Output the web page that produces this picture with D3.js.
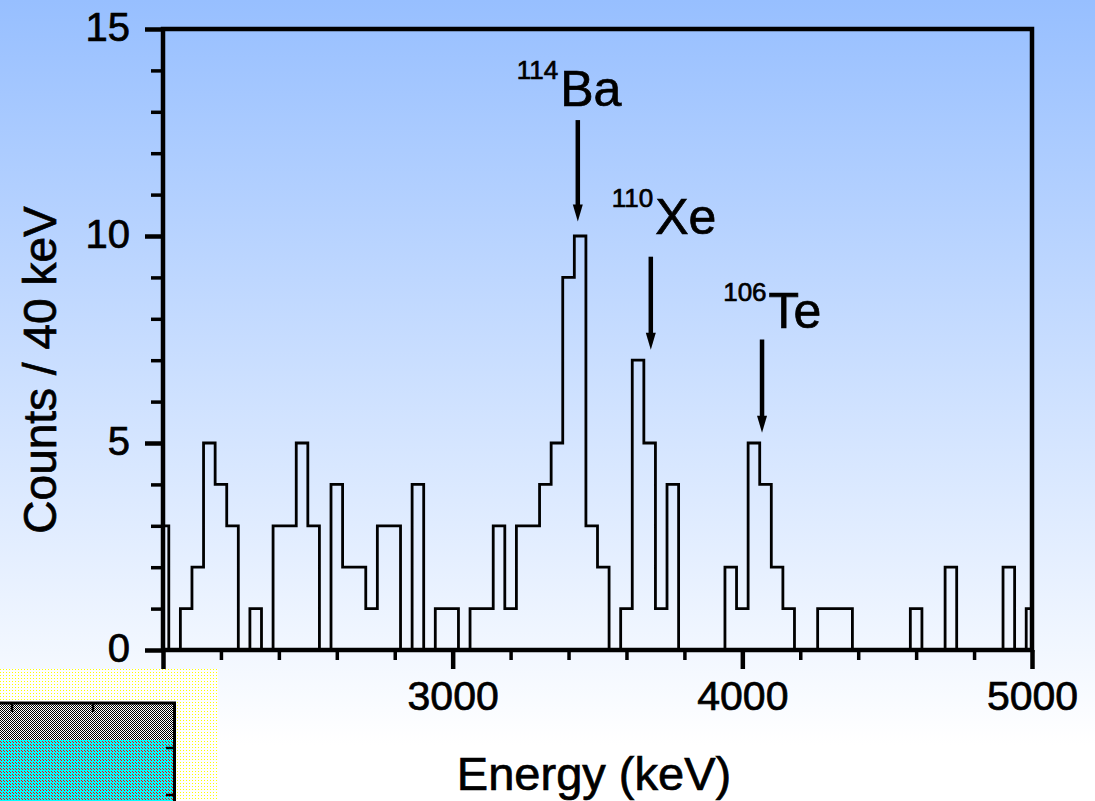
<!DOCTYPE html>
<html>
<head>
<meta charset="utf-8">
<script src="https://cdn.jsdelivr.net/npm/d3@7"></script>
<style>
  body { margin: 0; background: #fff; }
  text { font-family: "Liberation Sans", Arial, Helvetica, sans-serif; fill: #000; stroke: #000; stroke-width: 0.7px; }
</style>
</head>
<body>
<div id="chart-area"></div>
<script>
// DATA - 40 keV bins, first bin centred on 2000 keV
const binWidth = 40
const binCentres = d3.range(2000, 5001, binWidth)
const counts = [
  3, 0, 1, 2, 5, 4, 3, 0, 1, 0,
  3, 3, 5, 3, 0, 4, 2, 2, 1, 3,
  3, 0, 4, 0, 1, 1, 0, 1, 1, 3,
  1, 3, 3, 4, 5, 9, 10, 3, 2, 0,
  1, 7, 5, 1, 4, 0, 0, 0, 0, 2,
  1, 5, 4, 2, 1, 0, 0, 1, 1, 1,
  0, 0, 0, 0, 0, 1, 0, 0, 2, 0,
  0, 0, 0, 2, 0, 1
]

const xMajorTicks = [2000, 3000, 4000, 5000]
const yMajorTicks = [0, 5, 10, 15]

// peak annotations (arrow and label anchor in data units)
const isotopes = ["Ba", "Xe", "Te"]
const massNumbers = ["114", "110", "106"]
const arrowEnergy = [3432, 3684, 4068]
const arrowFrom = [12.8, 9.5, 7.5]
const arrowTo = [10.35, 7.25, 5.25]
const labelEnergy = [3221, 3549, 3934]
const labelCount = [13.15, 10.05, 7.77]

const WIDTH = 1095
const HEIGHT = 801
const PLOT = { LEFT: 163, RIGHT: 1032, TOP: 29, BOTTOM: 650 }

const svg = d3.select("#chart-area").append("svg")
  .attr("width", WIDTH)
  .attr("height", HEIGHT)

const defs = svg.append("defs")

// BACKGROUND gradient
const grad = defs.append("linearGradient")
  .attr("id", "bg")
  .attr("x1", 0).attr("y1", 0).attr("x2", 0).attr("y2", 1)
grad.append("stop").attr("offset", "0%").attr("stop-color", "#97bfff")
grad.append("stop").attr("offset", "93%").attr("stop-color", "#ffffff")

svg.append("rect")
  .attr("width", WIDTH)
  .attr("height", HEIGHT)
  .attr("fill", "url(#bg)")

// SCALES
const x = d3.scaleLinear()
  .domain([2000, 5000])
  .range([PLOT.LEFT, PLOT.RIGHT])

const y = d3.scaleLinear()
  .domain([0, 15])
  .range([PLOT.BOTTOM, PLOT.TOP])

// AXES
const xMinor = d3.range(2000, 5001, 200).filter(d => !xMajorTicks.includes(d))
const yMinor = d3.range(0, 16, 1).filter(d => !yMajorTicks.includes(d))

const xAxisGroup = svg.append("g")
  .attr("transform", `translate(0, ${PLOT.BOTTOM})`)
xAxisGroup.append("g")
  .call(d3.axisBottom(x).tickValues(xMinor).tickSize(10).tickFormat(""))
  .call(g => g.selectAll("line").attr("stroke-width", 3.5))
xAxisGroup.append("g")
  .call(d3.axisBottom(x).tickValues(xMajorTicks).tickSize(19).tickPadding(12).tickFormat(d3.format("d")))
  .call(g => g.selectAll("line").attr("stroke-width", 4.5))
  .call(g => g.selectAll("text").style("font-size", "41px"))
xAxisGroup.selectAll(".domain").remove()

const yAxisGroup = svg.append("g")
  .attr("transform", `translate(${PLOT.LEFT}, 0)`)
yAxisGroup.append("g")
  .call(d3.axisLeft(y).tickValues(yMinor).tickSize(12).tickFormat(""))
  .call(g => g.selectAll("line").attr("stroke-width", 3.5))
yAxisGroup.append("g")
  .call(d3.axisLeft(y).tickValues(yMajorTicks).tickSize(18).tickPadding(15))
  .call(g => g.selectAll("line").attr("stroke-width", 4.5))
  .call(g => g.selectAll("text").style("font-size", "40px").attr("dy", "0.28em"))
yAxisGroup.selectAll(".domain").remove()

// FRAME
svg.append("rect")
  .attr("x", x(2000))
  .attr("y", y(15))
  .attr("width", x(5000) - x(2000))
  .attr("height", y(0) - y(15))
  .attr("fill", "none")
  .attr("stroke", "#000")
  .attr("stroke-width", 4.5)

// HISTOGRAM
const steps = binCentres.map((c, i) => ({
  e: Math.max(2000, c - binWidth / 2),
  v: counts[i]
}))
steps.push({ e: 5000, v: counts[counts.length - 1] })

const stepLine = d3.line()
  .x(d => x(d.e))
  .y(d => y(d.v))
  .curve(d3.curveStepAfter)

svg.append("path")
  .datum(steps)
  .attr("d", stepLine)
  .attr("fill", "none")
  .attr("stroke", "#000")
  .attr("stroke-width", 2.8)

// ANNOTATIONS
isotopes.forEach((iso, i) => {
  const ax = x(arrowEnergy[i])
  const y0 = y(arrowFrom[i])
  const y1 = y(arrowTo[i])
  svg.append("line")
    .attr("x1", ax).attr("x2", ax)
    .attr("y1", y0).attr("y2", y1 - 12)
    .attr("stroke", "#000")
    .attr("stroke-width", 4.5)
  svg.append("path")
    .attr("d", `M${ax - 5},${y1 - 17} L${ax + 5},${y1 - 17} L${ax},${y1} Z`)
    .attr("fill", "#000")

  const label = svg.append("text")
    .attr("x", x(labelEnergy[i]))
    .attr("y", y(labelCount[i]))
  label.append("tspan")
    .style("font-size", "26px")
    .attr("dy", -27)
    .text(massNumbers[i])
  label.append("tspan")
    .style("font-size", "50px")
    .attr("dx", 2)
    .attr("dy", 27)
    .text(iso)
})

// AXIS TITLES
svg.append("text")
  .attr("x", 594)
  .attr("y", 790)
  .attr("text-anchor", "middle")
  .style("font-size", "47px")
  .text("Energy (keV)")

svg.append("text")
  .attr("transform", "translate(56, 370) rotate(-90)")
  .attr("text-anchor", "middle")
  .style("font-size", "46px")
  .text("Counts / 40 keV")

// OVERLAY BOX in the lower left corner
const dots = defs.append("pattern")
  .attr("id", "dots").attr("width", 3).attr("height", 3)
  .attr("patternUnits", "userSpaceOnUse")
dots.append("rect").attr("width", 3).attr("height", 3).attr("fill", "#fff")
dots.append("rect").attr("x", 0).attr("y", 0).attr("width", 1).attr("height", 1).attr("fill", "#ffff00")

const checker = defs.append("pattern")
  .attr("id", "checker").attr("width", 2).attr("height", 2)
  .attr("patternUnits", "userSpaceOnUse")
checker.append("rect").attr("width", 2).attr("height", 2).attr("fill", "#fff")
checker.append("rect").attr("width", 1).attr("height", 1).attr("fill", "#000")
checker.append("rect").attr("x", 1).attr("y", 1).attr("width", 1).attr("height", 1).attr("fill", "#000")

const cyanRed = defs.append("pattern")
  .attr("id", "cyanred").attr("width", 3).attr("height", 3)
  .attr("patternUnits", "userSpaceOnUse")
cyanRed.append("rect").attr("width", 3).attr("height", 3).attr("fill", "#00ffff")
cyanRed.append("rect").attr("width", 1).attr("height", 1).attr("fill", "#ff0000")
cyanRed.append("rect").attr("x", 1).attr("y", 1).attr("width", 1).attr("height", 1).attr("fill", "#ff0000")

const box = svg.append("g")
box.append("rect")
  .attr("x", 0).attr("y", 669).attr("width", 218).attr("height", HEIGHT - 669)
  .attr("fill", "url(#dots)")
box.append("rect")
  .attr("x", 0).attr("y", 702).attr("width", 176).attr("height", 38)
  .attr("fill", "url(#checker)")
box.append("rect")
  .attr("x", 0).attr("y", 740).attr("width", 176).attr("height", HEIGHT - 740)
  .attr("fill", "url(#cyanred)")
box.append("path")
  .attr("d", `M0,703 H174.5 V${HEIGHT}`)
  .attr("fill", "none")
  .attr("stroke", "#000")
  .attr("stroke-width", 3)
box.selectAll(".tickTop")
  .data([12, 93])
  .enter().append("line")
  .attr("x1", d => d).attr("x2", d => d)
  .attr("y1", 703).attr("y2", 712)
  .attr("stroke", "#000").attr("stroke-width", 2.5)
box.selectAll(".tickRight")
  .data([748, 795])
  .enter().append("line")
  .attr("x1", 166).attr("x2", 175)
  .attr("y1", d => d).attr("y2", d => d)
  .attr("stroke", "#000").attr("stroke-width", 2.5)
</script>
</body>
</html>
